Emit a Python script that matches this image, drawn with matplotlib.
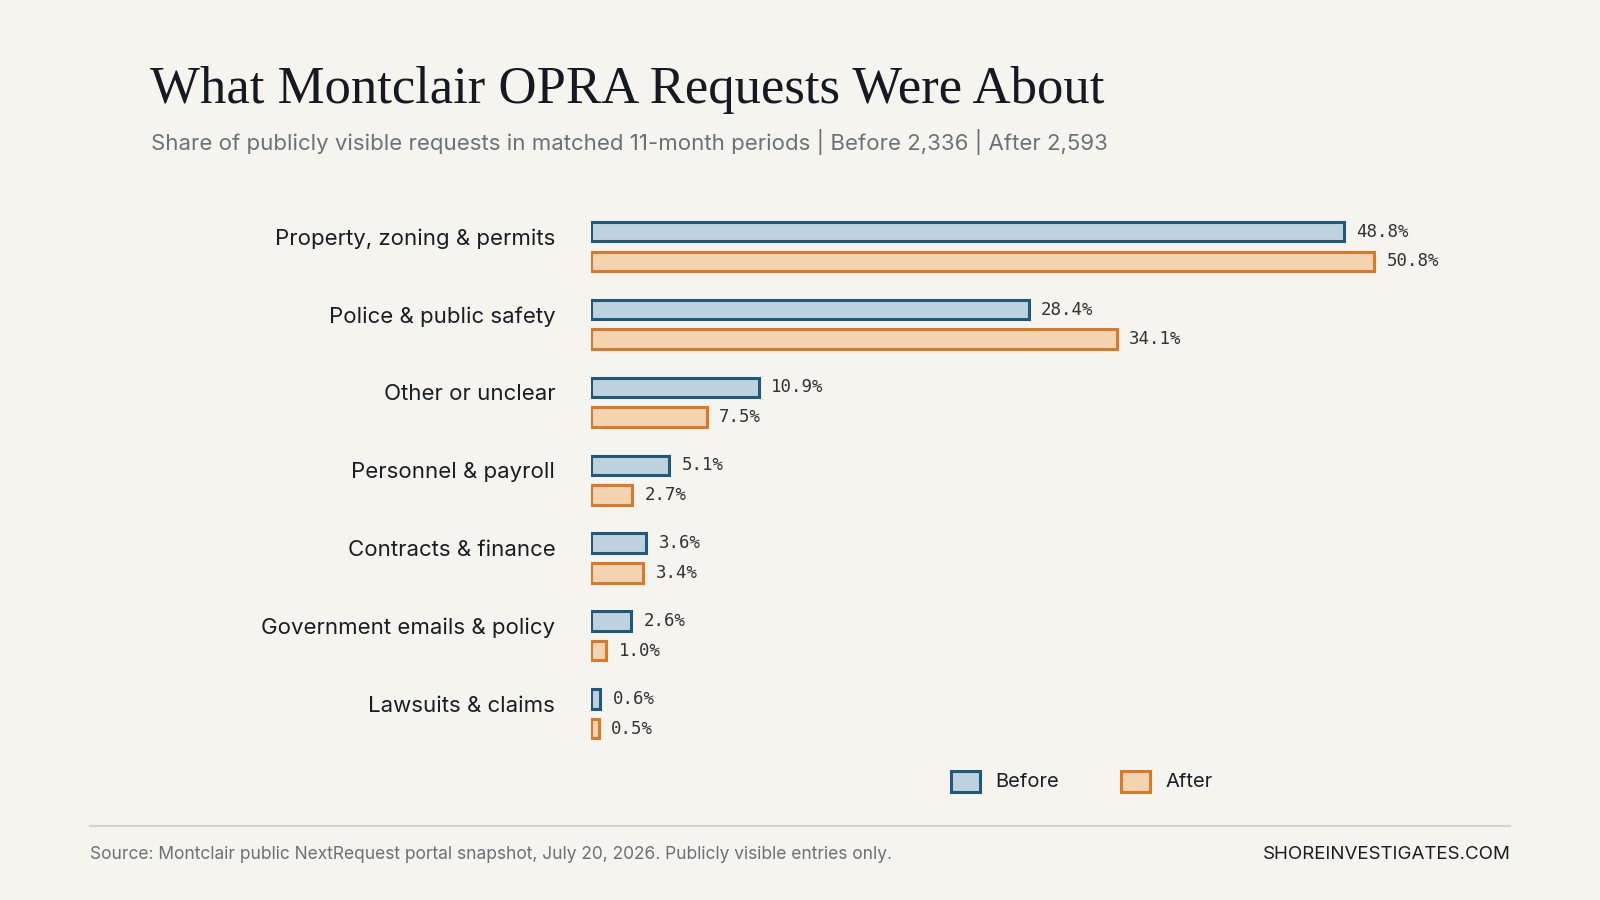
import matplotlib
matplotlib.use("Agg")
import matplotlib.pyplot as plt
from matplotlib.patches import Rectangle
from matplotlib.lines import Line2D

categories = ["Property, zoning & permits", "Police & public safety", "Other or unclear",
              "Personnel & payroll", "Contracts & finance", "Government emails & policy",
              "Lawsuits & claims"]
before = [48.8, 28.4, 10.9, 5.1, 3.6, 2.6, 0.6]
after = [50.8, 34.1, 7.5, 2.7, 3.4, 1.0, 0.5]

BG = "#f6f4ee"
BLUE_E, BLUE_F = "#1f5a7a", "#bdd1de"
ORG_E, ORG_F = "#d97a2b", "#f4d3b0"
W, H = 1568.0, 882.0

def fx(px): return px / W
def fy(py): return 1 - py / H

fig = plt.figure(figsize=(16, 9), dpi=100)
fig.patch.set_facecolor(BG)

ax = fig.add_axes([fx(579), fy(740), fx(1486) - fx(579), (740 - 190) / H])
ax.set_facecolor(BG)
ax.set_xlim(0, 60)
ax.set_ylim(6.53, -0.675)

ys = list(range(len(categories)))
ax.barh([y - 0.19 for y in ys], before, height=0.25, color=BLUE_F, edgecolor=BLUE_E, linewidth=2.2)
ax.barh([y + 0.19 for y in ys], after, height=0.25, color=ORG_F, edgecolor=ORG_E, linewidth=2.2)
for y, b, a in zip(ys, before, after):
    ax.text(b + 0.8, y - 0.19, f"{b:.1f}%", va="center", ha="left", fontsize=12.5,
            family="DejaVu Sans Mono", color="#333")
    ax.text(a + 0.8, y + 0.19, f"{a:.1f}%", va="center", ha="left", fontsize=12.5,
            family="DejaVu Sans Mono", color="#333")
for y, c in zip(ys, categories):
    ax.text(-2.3, y - 0.1, c, va="center", ha="right", fontsize=16, family="Inter",
            color="#1a1d24")
ax.set_yticks([])
ax.set_xticks([])
for s in ax.spines.values():
    s.set_visible(False)

fig.text(fx(147), fy(88), "What Montclair OPRA Requests Were About", fontsize=38,
         family="Liberation Serif", color="#151a22", va="center")
fig.text(fx(148), fy(139), "Share of publicly visible requests in matched 11-month periods | Before 2,336 | After 2,593",
         fontsize=16, family="Inter", color="#6b7178", va="center")

# legend
for x0, fc, ec, lab in [(932, BLUE_F, BLUE_E, "Before"), (1099, ORG_F, ORG_E, "After")]:
    fig.patches.append(Rectangle((fx(x0), fy(776)), 28 / W, 20 / H, transform=fig.transFigure,
                                 facecolor=fc, edgecolor=ec, linewidth=2.2))
    fig.text(fx(x0 + 43), fy(766), lab, fontsize=14.5, family="Inter", color="#1a1d24", va="center")

fig.add_artist(Line2D([fx(88), fx(1480)], [fy(809), fy(809)], color="#d6d4ce", linewidth=1.5))
fig.text(fx(88), fy(837), "Source: Montclair public NextRequest portal snapshot, July 20, 2026. Publicly visible entries only.",
         fontsize=12.5, family="Inter", color="#6b7178", va="center")
fig.text(fx(1480), fy(837), "SHOREINVESTIGATES.COM", fontsize=13.5, family="Inter", color="#1a1d24",
         va="center", ha="right")

fig.savefig("out.png", facecolor=BG)
